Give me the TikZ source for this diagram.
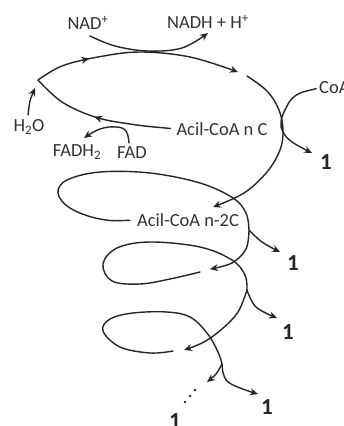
\documentclass[tikz,border=0pt]{standalone}
\usepackage{fontspec}
\setmainfont{Carlito}
\usetikzlibrary{arrows.meta,decorations.markings}
\definecolor{ink}{HTML}{262626}
\definecolor{txt}{HTML}{333333}
\tikzset{
  lbl/.style={font=\fontsize{18.5}{20}\selectfont, text=txt, inner sep=0pt},
  onelbl/.style={font=\fontsize{23}{25}\selectfont\bfseries, text=ink, inner sep=0pt},
  curve/.style={draw=ink, line width=1.4pt, line cap=round},
  tipend/.style={-{Stealth[length=8pt,width=7pt]}},
  midarrow/.style={postaction={decorate}, decoration={markings, mark=at position #1 with {\arrow{Stealth[length=8pt,width=7pt]}}}},
}
\begin{document}
\begin{tikzpicture}[x=1pt,y=-1pt]
\clip (0,0) rectangle (344,426);
\fill[white] (0,0) rectangle (344,426);

% labels
\node[lbl] (nad) at (88,23) {NAD\textsuperscript{+}};
\node[lbl] (nadh) at (208,22) {NADH + H\textsuperscript{+}};
\node[lbl] (h2o) at (29,127) {H\textsubscript{2}O};
\node[lbl] (fadh) at (77,152) {FADH\textsubscript{2}};
\node[lbl] (fad) at (132,153) {FAD};
\node[lbl] (acil) at (222,129) {Acil-CoA n C};
\node[lbl,anchor=west] (coa) at (319,88) {CoA};
\node[lbl] (acil2) at (188,220) {Acil-CoA n-2C};
\node[onelbl] (o1) at (326,162) {1};
\node[onelbl] (o2) at (293,263) {1};
\node[onelbl] (o3) at (288,332) {1};
\node[onelbl] (o4) at (267,407) {1};
\node[onelbl] (o5) at (175,421) {1};
\node[inner sep=0pt] (dots) at (190,396) {\tikz[x=1pt,y=-1pt]{\fill[ink] (5,-6) circle (1.4) (0,0) circle (1.4) (-5,6) circle (1.4);}};

% named end points
\coordinate (corner) at (38,80);
\coordinate (t1) at (238,72);
\coordinate (s1) at (247,76);
\coordinate (t2) at (213,207);
\coordinate (b2) at (249,230);
\coordinate (t3) at (210,269);
\coordinate (s3) at (200,272);
\coordinate (b3) at (247,290);
\coordinate (t4) at (184,350);
\coordinate (s4) at (173,351);
\coordinate (b4) at (222,364);
\coordinate (t5) at (207,382);

% NAD+ -> NADH
\draw[curve,tipend] plot[smooth,tension=0.6] coordinates {(90,36) (115,46) (148,51) (182,48) (208,33)};
% H2O
\draw[curve,tipend] plot[smooth] coordinates {(28,115) (30,101) (35,88)};
% FAD -> FADH2
\draw[curve,tipend] plot[smooth,tension=0.7] coordinates {(129,143) (126,131) (116,127) (100,129) (84,138)};

% loop 1
\draw[curve,midarrow=0.55,shorten <=6pt] plot[smooth,tension=0.6] coordinates {(acil.west) (130,124) (95,117) (62,102) (corner)};
\draw[curve,tipend,midarrow=0.27] plot[smooth,tension=0.6] coordinates {(corner) (62,66) (98,57) (140,52) (190,57) (t1)};
\draw[curve,tipend] plot[smooth,tension=0.6] coordinates {(s1) (267,91) (279,110) (283,130) (280,150) (267,172) (244,193) (t2)};
% CoA
\draw[curve,tipend,shorten <=3pt] plot[smooth,tension=0.6] coordinates {(coa.west) (295,96) (285,110) (281,122) (283,132) (292,142) (312,153)};

% loop 2
\draw[curve,shorten <=7pt] plot[smooth,tension=0.6] coordinates {(acil2.west) (100,219) (70,208) (58,193) (67,180) (100,172) (150,173) (200,183) (233,198) (246,213) (b2)};
\draw[curve,tipend] plot[smooth,tension=0.6] coordinates {(b2) (262,242) (280,252)};
\draw[curve,tipend] plot[smooth,tension=0.6] coordinates {(b2) (246,249) (232,263) (t3)};

% loop 3
\draw[curve] plot[smooth,tension=0.6] coordinates {(s3) (170,279) (140,284) (112,281) (103,264) (117,248) (150,242) (200,247) (232,260) (245,275) (b3)};
\draw[curve,tipend] plot[smooth,tension=0.6] coordinates {(b3) (256,307) (277,318)};
\draw[curve,tipend] plot[smooth,tension=0.6] coordinates {(b3) (238,312) (222,329) (204,342) (t4)};

% loop 4
\draw[curve] plot[smooth,tension=0.6] coordinates {(s4) (150,353) (120,347) (103,331) (110,319) (133,313) (167,312) (190,317) (207,333) (218,352) (b4)};
\draw[curve,tipend] plot[smooth,tension=0.6] coordinates {(b4) (228,382) (258,394)};
\draw[curve,tipend] plot[smooth,tension=0.6] coordinates {(b4) (216,374) (t5)};
\end{tikzpicture}
\end{document}
